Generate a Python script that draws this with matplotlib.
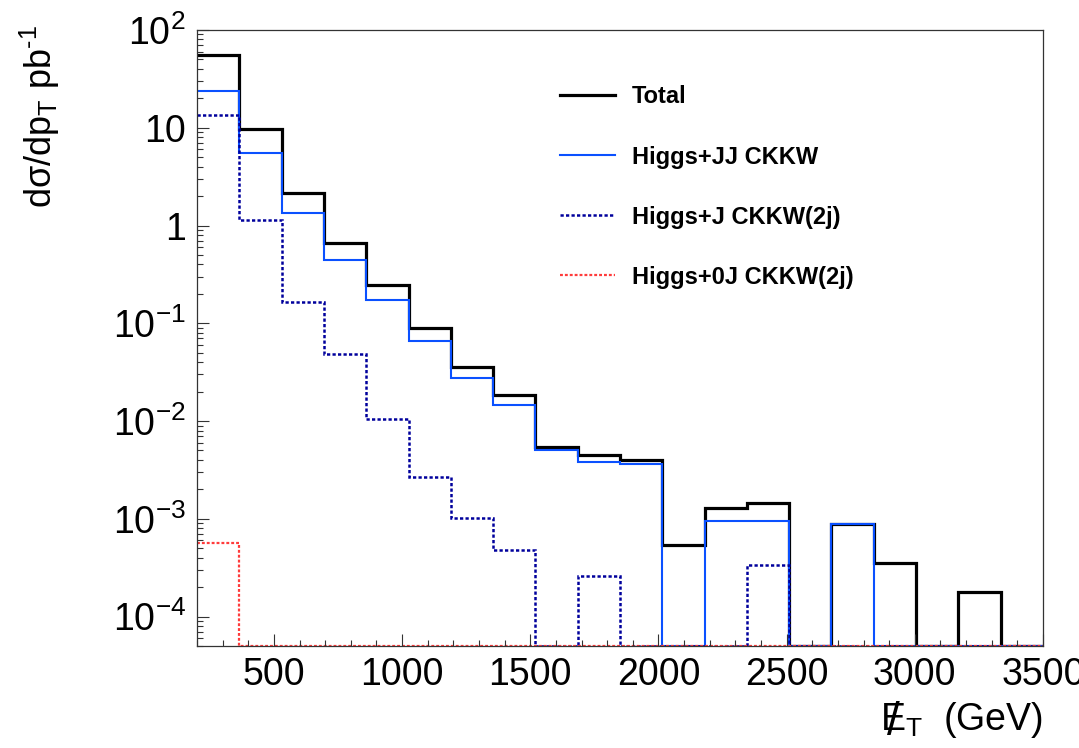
#!/usr/bin/env python3
"""Missing-ET distribution for Higgs + jets samples (ROOT-style log histogram)."""

import numpy as np
import matplotlib
matplotlib.use("Agg")
import matplotlib.pyplot as plt
from matplotlib.ticker import MultipleLocator, LogLocator, NullFormatter
from matplotlib.lines import Line2D

plt.rcParams['font.family'] = ['Liberation Sans', 'DejaVu Sans']
plt.rcParams['mathtext.default'] = 'regular'

# 20 bins of 165 GeV between 200 and 3500 GeV
bin_edges = np.arange(200, 3501, 165)

total = [56, 9.7, 2.15, 0.665, 0.246, 0.090, 0.0358, 0.0184, 0.00547, 0.00453,
         0.0040, 5.4e-4, 1.29e-3, 1.46e-3, 0, 8.9e-4, 3.5e-4, 0, 1.8e-4, 0]
higgs_jj = [24, 5.5, 1.35, 0.44, 0.172, 0.0655, 0.0277, 0.0146, 0.00506, 0.00385,
            0.00364, 0, 9.5e-4, 9.5e-4, 0, 8.9e-4, 0, 0, 0, 0]
higgs_j = [13.4, 1.15, 0.165, 0.049, 0.0106, 0.0027, 1.02e-3, 4.8e-4, 0, 2.6e-4,
           0, 0, 0, 3.4e-4, 0, 0, 0, 0, 0, 0]
higgs_0j = [5.7e-4, 0, 0, 0, 0, 0, 0, 0, 0, 0,
            0, 0, 0, 0, 0, 0, 0, 0, 0, 0]

labels = ['Total', 'Higgs+JJ CKKW', 'Higgs+J CKKW(2j)', 'Higgs+0J CKKW(2j)']

ytick_vals = [1e-4, 1e-3, 1e-2, 1e-1, 1, 10, 100]
ytick_text = [r'$10^{-4}$', r'$10^{-3}$', r'$10^{-2}$', r'$10^{-1}$', '1', '10', r'$10^{2}$']
xtick_vals = [500, 1000, 1500, 2000, 2500, 3000, 3500]

ymin, ymax = 5e-5, 100

fig = plt.figure(figsize=(10.79, 7.48), dpi=100)
ax = fig.add_axes([0.1826, 0.1364, 0.784, 0.8235])

dot = (0, (1.3, 0.9))
styles = [
    dict(color='black', lw=2.3, ls='-'),
    dict(color='#0a50ff', lw=1.5, ls='-'),
    dict(color='#00009c', lw=1.8, ls=dot),
    dict(color='#ff3b3b', lw=1.6, ls=dot),
]

# zero bins sit on the bottom of the frame, like ROOT does on a log axis
for vals, st in zip([total, higgs_jj, higgs_j, higgs_0j], styles):
    ax.stairs(np.clip(vals, ymin, None), bin_edges, baseline=None,
              color=st['color'], linewidth=st['lw'], linestyle=st['ls'])

ax.set_yscale('log')
ax.set_xlim(200, 3500)
ax.set_ylim(ymin, ymax)

ax.set_yticks(ytick_vals, ytick_text)
ax.yaxis.set_minor_locator(LogLocator(base=10, subs=np.arange(2, 10)))
ax.yaxis.set_minor_formatter(NullFormatter())
ax.set_xticks(xtick_vals)
ax.xaxis.set_minor_locator(MultipleLocator(100))

ax.tick_params(which='both', direction='in', top=False, right=False,
               labelsize=27, width=0.8, color='#333333')
ax.tick_params(which='major', length=8.6, pad=8)
ax.tick_params(which='minor', length=4.3)
for sp in ax.spines.values():
    sp.set_linewidth(0.9)
    sp.set_color('#333333')

ax.set_ylabel('d$\\sigma$/dp$_{T}$ pb$^{\u2010' + '1}$', fontsize=26, loc='top')
ax.yaxis.set_label_coords(-0.186, 1.008)
ax.yaxis.label.set_va('center')

ax.set_xlabel(r'$E_{T}$  (GeV)', fontsize=27, loc='right')
ax.xaxis.set_label_coords(1.0, -0.12)
ax.xaxis.label.set_va('center')
# slash through the E (missing transverse energy)
ax.annotate('/', xy=(0.08, 0.42), xycoords=ax.xaxis.label, ha='center', va='center',
            fontsize=33, annotation_clip=False)

handles = [Line2D([], [], color=st['color'], lw=st['lw'], ls=st['ls']) for st in styles]
leg = ax.legend(handles, labels, loc='center left', bbox_to_anchor=(0.429, 0.745),
                frameon=False, handlelength=2.33, handletextpad=0.72,
                labelspacing=1.57, borderpad=0, borderaxespad=0,
                prop=dict(family='Liberation Sans', weight='bold', size=17))

fig.savefig('out.png', dpi=100)
